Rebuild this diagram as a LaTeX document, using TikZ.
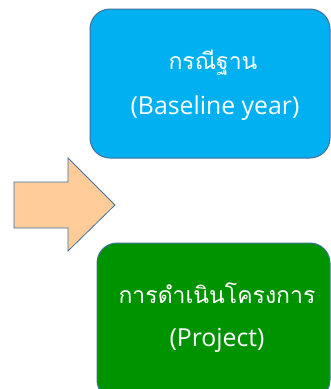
\documentclass[tikz,border=0pt]{standalone}
\usepackage{fontspec}
\newfontfamily\thaifont[Script=Thai]{Loma}
\newfontfamily\latfont{Open Sans}
\definecolor{boxblue}{HTML}{00B0F0}
\definecolor{boxgreen}{HTML}{009300}
\definecolor{edgeblue}{HTML}{41719C}
\definecolor{peach}{HTML}{FFCC99}
\begin{document}
\begin{tikzpicture}[x=1pt,y=-1pt,
  box/.style={draw=edgeblue,line width=1pt,rounded corners=20pt},
  lbl/.style={text=white,inner sep=0pt,anchor=center},
  thlbl/.style={lbl,font=\thaifont\fontsize{23}{27}\selectfont},
  enlbl/.style={lbl,font=\latfont\fontsize{24.8}{29}\selectfont}]
\useasboundingbox (0,0) rectangle (331,389);
\clip (0,0) rectangle (331,389);
\fill[white] (0,0) rectangle (331,389);
\draw[box,fill=boxblue] (90,9) rectangle (330,158);
\draw[box,fill=boxgreen] (97,243) rectangle (330,400);
\draw[draw=edgeblue,line width=0.8pt,fill=peach]
  (14,182) -- (68,182) -- (68,158) -- (115,205) -- (68,251) -- (68,228) -- (14,228) -- cycle;
\node[thlbl] (t1) at (213,63) {กรณีฐาน};
\node[enlbl] (t2) at (215,108) {(Baseline year)};
\node[thlbl] (t3) at (217,293) {การดำเนินโครงการ};
\node[enlbl] (t4) at (217,340) {(Project)};
\end{tikzpicture}
\end{document}
